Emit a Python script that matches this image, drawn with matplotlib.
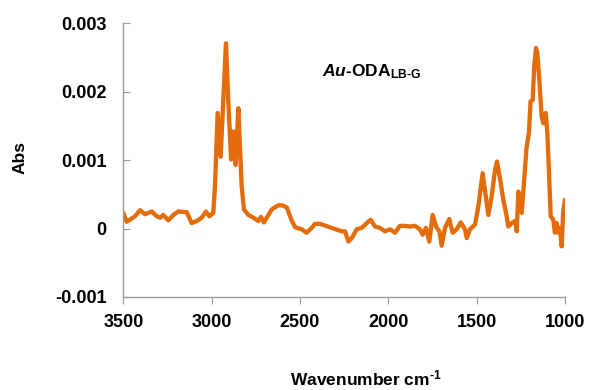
import matplotlib
matplotlib.use("Agg")
import matplotlib.pyplot as plt

plt.rcParams['font.family'] = ['Liberation Sans', 'DejaVu Sans']
plt.rcParams['font.weight'] = 'bold'
plt.rcParams['mathtext.fontset'] = 'custom'
plt.rcParams['mathtext.rm'] = 'Liberation Sans:bold'
plt.rcParams['mathtext.it'] = 'Liberation Sans:bold:italic'
plt.rcParams['mathtext.bf'] = 'Liberation Sans:bold'

wavenumber = [
    3500, 3481, 3462, 3434, 3405, 3377, 3339, 3311, 3290, 3274, 3245, 3217, 3189,
    3141, 3113, 3085, 3056, 3032, 3013, 2991, 2981, 2966, 2949, 2934, 2919,
    2906, 2890, 2877, 2864, 2849, 2839, 2830, 2817, 2792, 2764, 2736, 2721,
    2704, 2688, 2660, 2623, 2600, 2575, 2547, 2528, 2490, 2462, 2434, 2415,
    2387, 2264, 2245, 2226, 2207, 2179, 2151, 2122, 2100, 2075, 2047, 2019,
    1990, 1962, 1934, 1906, 1877, 1849, 1821, 1806, 1787, 1768, 1749, 1730,
    1711, 1698, 1679, 1655, 1636, 1613, 1590, 1566, 1556, 1538, 1509, 1490,
    1466, 1447, 1434, 1415, 1396, 1385, 1367, 1349, 1330, 1321, 1302, 1283,
    1273, 1264, 1255, 1245, 1232, 1217, 1204, 1195, 1183, 1174, 1164, 1157,
    1146, 1132, 1123, 1109, 1100, 1091, 1081, 1066, 1057, 1047, 1038, 1029,
    1019, 1010, 1000]
absorbance = [
    0.00023, 0.00010, 0.00013, 0.00018, 0.00027, 0.00021, 0.00025, 0.00018,
    0.00016, 0.00020, 0.00012, 0.00020, 0.00025, 0.00024, 0.00008, 0.00011,
    0.00016, 0.00025, 0.00018, 0.00023, 0.00062, 0.00169, 0.00105, 0.00188,
    0.00271, 0.00188, 0.00101, 0.00142, 0.00093, 0.00176, 0.00115, 0.00062,
    0.00028, 0.00020, 0.00016, 0.00011, 0.00017, 0.00009, 0.00016, 0.00028,
    0.00034, 0.00034, 0.00031, 0.00012, 0.00002, -0.00001, -0.00006, 0.00001,
    0.00007, 0.00007, -0.00004, -0.00004, -0.00019, -0.00014, -0.00001, 0.00001,
    0.00008, 0.00013, 0.00003, 0.00001, -0.00004, -0.00001, -0.00006, 0.00004,
    0.00004, 0.00003, 0.00004, -0.00001, -0.00009, 0.00001, -0.00019, 0.00020,
    0.00003, -0.00004, -0.00025, 0.00001, 0.00014, -0.00006, -0.00001, 0.00009,
    -0.00001, -0.00014, -0.00001, 0.00006, 0.00033, 0.00081, 0.00045, 0.00020,
    0.00047, 0.00086, 0.00098, 0.00072, 0.00042, 0.00018, 0.00003, 0.00008,
    0.00011, -0.00004, 0.00054, 0.00047, 0.00023, 0.00067, 0.00120, 0.00140,
    0.00186, 0.00188, 0.00237, 0.00264, 0.00257, 0.00220, 0.00164, 0.00154,
    0.00169, 0.00140, 0.00086, 0.00018, 0.00013, -0.00006, 0.00008, -0.00006,
    0.00001, -0.00026, 0.00025, 0.00042]

x_ticks = [3500, 3000, 2500, 2000, 1500, 1000]
y_ticks = [-0.001, 0, 0.001, 0.002, 0.003]
y_tick_labels = ['-0.001', '0', '0.001', '0.002', '0.003']

fig = plt.figure(figsize=(5.9, 3.9), dpi=100)
ax = fig.add_axes([0.209, 0.2385, 0.7486, 0.7015])

ax.plot(wavenumber, absorbance, color='#E46C0A', lw=3.1,
        solid_joinstyle='round', solid_capstyle='round')

ax.set_xlim(3500, 1000)
ax.set_ylim(-0.001, 0.003)
ax.set_xticks(x_ticks)
ax.set_xticklabels([str(t) for t in x_ticks])
ax.set_yticks(y_ticks)
ax.set_yticklabels(y_tick_labels)

for s in ['top', 'right']:
    ax.spines[s].set_visible(False)
for s in ['left', 'bottom']:
    ax.spines[s].set_color('#9a9a9a')
    ax.spines[s].set_linewidth(1.0)

ax.tick_params(axis='y', direction='in', length=5, color='#9a9a9a',
               labelsize=13, pad=12)
ax.tick_params(axis='x', direction='out', length=5, color='#9a9a9a',
               labelsize=13, pad=7)
for lab in ax.get_xticklabels() + ax.get_yticklabels():
    lab.set_fontweight('bold')

fig.text(0.62, 0.03, r'Wavenumber cm$^{\text{-1}}$', ha='center', va='center',
         fontsize=12.5, fontweight='bold')
fig.text(0.034, 0.595, 'Abs', ha='center', va='center', rotation=90,
         fontsize=12.5, fontweight='bold')
ax.text(0.45, 0.822, r'$\mathit{Au}$-ODA$_{\text{LB-G}}$', transform=ax.transAxes,
        ha='left', va='center', fontsize=12.5, fontweight='bold')

fig.savefig('out.png', dpi=100)
